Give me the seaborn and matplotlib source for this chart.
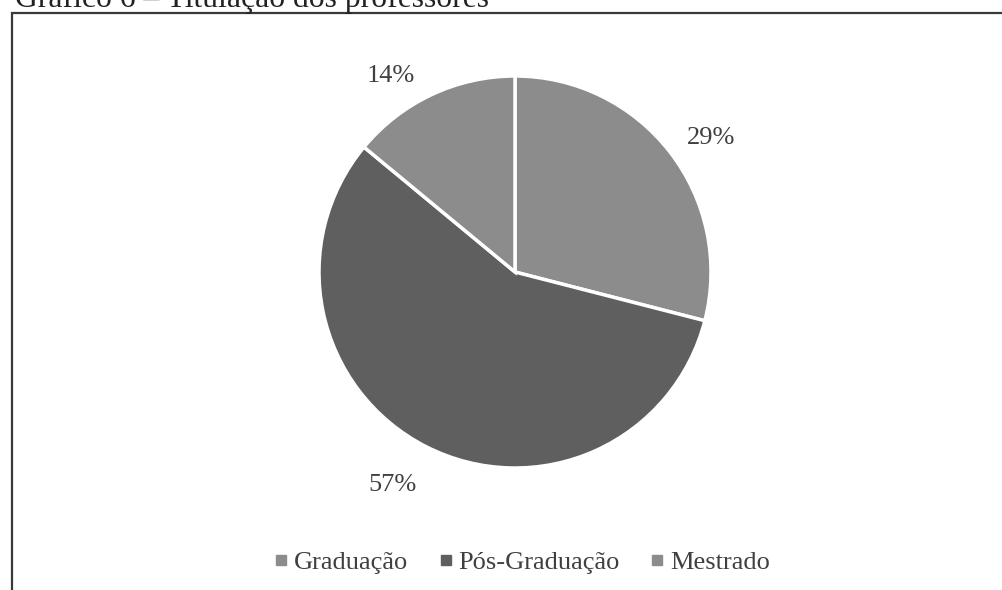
import matplotlib
matplotlib.use('Agg')
import matplotlib.pyplot as plt
import seaborn as sns
from matplotlib.patches import Rectangle
from matplotlib.lines import Line2D

sns.set_theme(style='white')
plt.rcParams['font.family'] = ['Liberation Serif', 'DejaVu Serif']

# Data
categorias = ['Graduação', 'Pós-Graduação', 'Mestrado']
percentuais = [29, 57, 14]
cores = ['#8c8c8c', '#5f5f5f', '#8c8c8c']
titulo = 'Gráfico 6 – Titulação dos professores'
texto_cor = '#404040'

fig = plt.figure(figsize=(10.03, 5.90), dpi=100)

# Frame around the chart (cut off at the right and bottom like the original)
fig.patches.append(Rectangle((12 / 1003, -0.05), 1.1, (590 - 13) / 590 + 0.05,
                             transform=fig.transFigure, fill=False,
                             edgecolor='#3a3a3a', linewidth=1.6))

fig.text(15 / 1003, 1 - 7 / 590, titulo, fontsize=22.8, color='#222222',
         ha='left', va='baseline')

# pie area: center (515, 272), radius ~196 px
r = 196
ax = fig.add_axes([(515 - r) / 1003, 1 - (272 + r) / 590, 2 * r / 1003, 2 * r / 590])
wedges, _, autotexts = ax.pie(
    percentuais, colors=cores, startangle=90, counterclock=False,
    autopct='%d%%', pctdistance=1.22, radius=1.0,
    wedgeprops=dict(edgecolor='white', linewidth=2.5),
    textprops=dict(fontsize=19, color=texto_cor))
ax.set_xlim(-1, 1)
ax.set_ylim(-1, 1)
ax.set_aspect('equal')
ax.axis('off')

# nudge labels the way the original spreadsheet placed them
ajustes = [(0.036, -0.066), (-0.071, 0.0), (-0.112, -0.102)]
for t, (dx, dy) in zip(autotexts, ajustes):
    x, y = t.get_position()
    t.set_position((x + dx, y + dy))

handles = [Line2D([0], [0], marker='s', linestyle='none', markersize=7,
                  markerfacecolor=c, markeredgecolor=c) for c in cores]
leg = fig.legend(handles, categorias, loc='center', ncol=3, frameon=False,
                 bbox_to_anchor=(519 / 1003, 1 - 562 / 590), fontsize=19,
                 handletextpad=0.0, columnspacing=0.9, handlelength=1.0)
for t in leg.get_texts():
    t.set_color(texto_cor)

fig.savefig('out.png', dpi=100)
